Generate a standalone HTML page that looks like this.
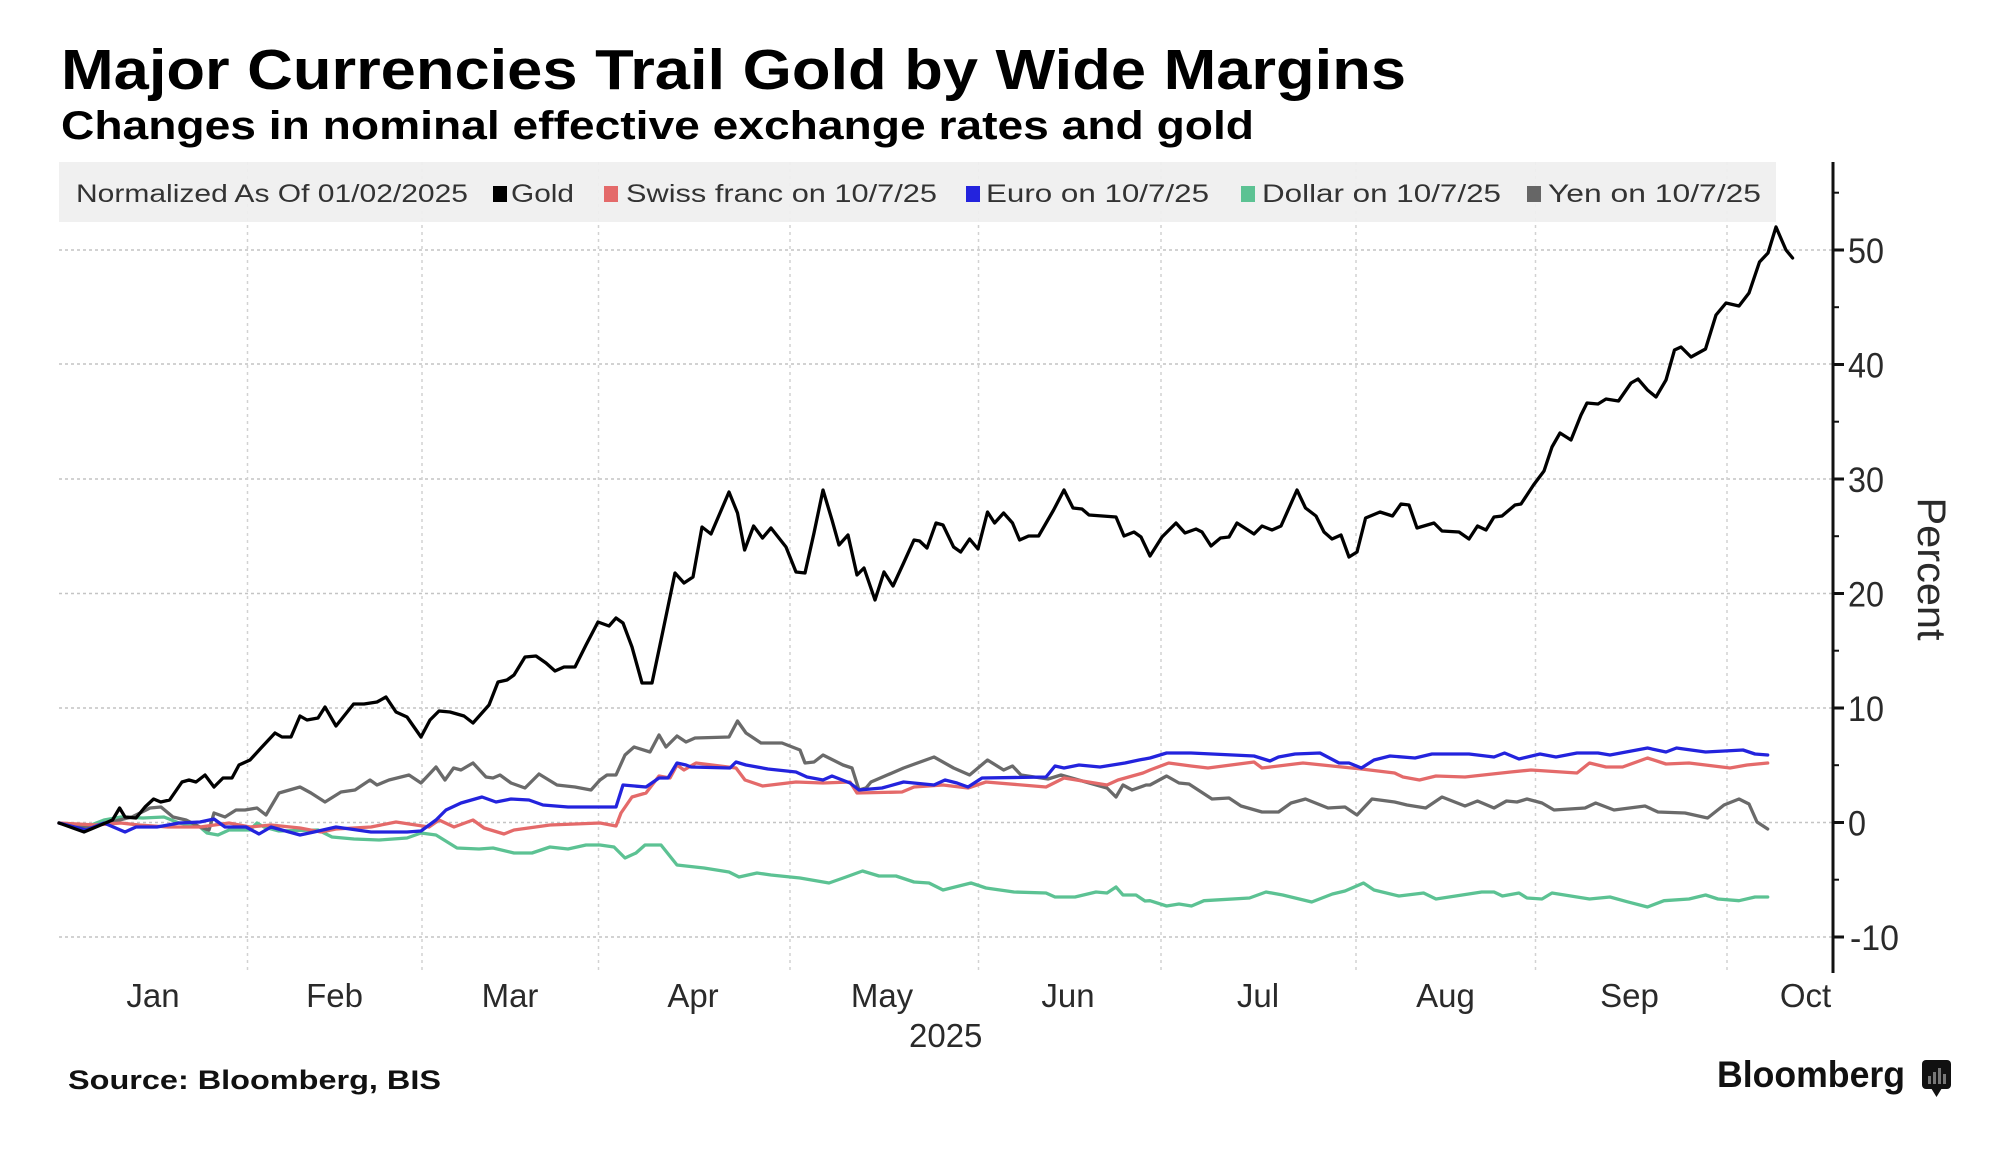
<!DOCTYPE html>
<html>
<head>
<meta charset="utf-8">
<style>
  html, body { margin: 0; padding: 0; background: #ffffff; }
  body { width: 2000px; height: 1151px; overflow: hidden; }
  svg { display: block; }
  text { font-family: "Liberation Sans", "DejaVu Sans", sans-serif; }
</style>
</head>
<body>
<svg width="2000" height="1151" viewBox="0 0 2000 1151" xmlns="http://www.w3.org/2000/svg">
  <rect x="0" y="0" width="2000" height="1151" fill="#ffffff"/>

  <!-- Titles -->
  <text x="61" y="89" font-size="57" font-weight="bold" fill="#000" textLength="1345" lengthAdjust="spacingAndGlyphs">Major Currencies Trail Gold by Wide Margins</text>
  <text x="61" y="139" font-size="40" font-weight="bold" fill="#000" textLength="1193" lengthAdjust="spacingAndGlyphs">Changes in nominal effective exchange rates and gold</text>

  <!-- Horizontal gridlines -->
  <g stroke="#c4c4c4" stroke-width="1.5" stroke-dasharray="3 3">
    <line x1="59" y1="250" x2="1833" y2="250"/>
    <line x1="59" y1="364" x2="1833" y2="364"/>
    <line x1="59" y1="479" x2="1833" y2="479"/>
    <line x1="59" y1="593.5" x2="1833" y2="593.5"/>
    <line x1="59" y1="708" x2="1833" y2="708"/>
    <line x1="59" y1="822.5" x2="1833" y2="822.5"/>
    <line x1="59" y1="937" x2="1833" y2="937"/>
  </g>

  <!-- Vertical gridlines -->
  <g stroke="#d2d2d2" stroke-width="1.5" stroke-dasharray="3 4">
    <line x1="247.5" y1="162" x2="247.5" y2="972"/>
    <line x1="422" y1="162" x2="422" y2="972"/>
    <line x1="598.5" y1="162" x2="598.5" y2="972"/>
    <line x1="790" y1="162" x2="790" y2="972"/>
    <line x1="978.5" y1="162" x2="978.5" y2="972"/>
    <line x1="1161" y1="162" x2="1161" y2="972"/>
    <line x1="1356" y1="162" x2="1356" y2="972"/>
    <line x1="1535.5" y1="162" x2="1535.5" y2="972"/>
    <line x1="1727" y1="162" x2="1727" y2="972"/>
  </g>

  <!-- Legend -->
  <rect x="59" y="162" width="1717" height="60" fill="#efefef" fill-opacity="0.93"/>
  <g font-size="25" fill="#333">
    <text x="76" y="202" textLength="392" lengthAdjust="spacingAndGlyphs">Normalized As Of 01/02/2025</text>
    <rect x="493" y="186" width="14" height="16" fill="#000"/>
    <text x="511" y="202" textLength="63" lengthAdjust="spacingAndGlyphs">Gold</text>
    <rect x="604" y="186" width="14" height="16" fill="#e46a6a"/>
    <text x="626" y="202" textLength="311" lengthAdjust="spacingAndGlyphs">Swiss franc on 10/7/25</text>
    <rect x="966" y="186" width="14" height="16" fill="#2323dd"/>
    <text x="986" y="202" textLength="223" lengthAdjust="spacingAndGlyphs">Euro on 10/7/25</text>
    <rect x="1241" y="186" width="14" height="16" fill="#5cc293"/>
    <text x="1262" y="202" textLength="239" lengthAdjust="spacingAndGlyphs">Dollar on 10/7/25</text>
    <rect x="1527" y="186" width="14" height="16" fill="#666"/>
    <text x="1548" y="202" textLength="213" lengthAdjust="spacingAndGlyphs">Yen on 10/7/25</text>
  </g>

  <!-- Series -->
  <g fill="none" stroke-width="3.3" stroke-linejoin="round" stroke-linecap="round">
    <!-- Dollar -->
    <polyline stroke="#5cc293" points="59,823 86,827 104,820 121,817 143,818 164,817 179,823 200,827 207,833 218,835 229,830 250,830 257,823 264,827 279,831 318,830 332,837 354,839 379,840 407,838 421,833 436,835 457,848 479,849 493,848 514,853 532,853 550,847 568,849 586,845 600,845 614,847 625,858 636,853 645,845 661,845 677,865 704,868 729,872 739,877 757,873 771,875 800,878 829,883 846,877 862.5,871 879,876 896,876 914,882 929,883 943,890 971,883 986,888 1000,890 1014,892 1046,893 1055,897 1075,897 1096,892 1107,893 1116,887 1123,895 1136,895 1145,901 1150,900.7 1166.6,906 1179,904 1191.5,906 1204,900.7 1249.5,898 1266,892 1282.7,895 1311.7,902 1332.4,894 1345,891 1363.5,883 1374,890 1399,896 1423.6,893 1436,899 1481.7,892 1494,892 1502.4,896 1519,893 1527,898 1542,899 1552,893 1589.5,899 1610,897 1627,901.7 1647.5,907 1664,900.7 1689,899 1705.6,895 1718,899 1739,900.7 1755,897 1767.7,897"/>
    <!-- Yen -->
    <polyline stroke="#6a6a6a" points="59,823 86,827 107,823 132,817 150,808 161,807 173,817 186,820 200,827 209,830 214,813 225,817 236,810 245,810 257,808 266,815 279,793 300,787 311,793 325,802 341,792 355,790 370,780 377,785 389,780 409,775 421,783 436,767 445,780 453.6,768 461,770 473,763 486,777 493,778 500,775 511,783 525,788 539,774 557,785 575,787 591,790 600,780 607,775 616,775 625,755 634,747 650,752 659,735 666,747 677,736 686,742 695,738 729,737 737.5,721 746,733 761,743 782,743 800,750 805,763 814,762 823,755 843,765 852,768 859,790 866,788 871,782 903.6,768 934,757 953.6,768 969.6,775 987.5,760 1003.6,770 1012.5,766 1021,775 1048,779 1061,775 1107,788 1116,797 1123,785 1132,790 1146,785 1150,785 1166.6,776 1179,783 1189,784 1212,799 1229,798 1241,806 1262,812 1278.5,812 1291,803 1305.5,799 1328,808 1345,807 1357,815 1372,799 1394.6,802 1407,805 1425.7,808 1442,797 1465,806 1477.5,801 1494,808 1506.5,801 1517,802 1527,799 1542,803 1554,810 1585,808 1595.7,803 1614,810 1645,806 1658,812 1685,813 1707.6,818 1724,805 1739,799 1749,804 1757,822 1767.7,829"/>
    <!-- Swiss franc -->
    <polyline stroke="#e46a6a" points="59,823 96,825 121,823 139,825 168,827 200,827 229,823 250,827 271,825 300,828 321,832 336,829 371,827 396,822 429,827 439,820 454,827 473,820 484,828 504,834 514,830 550,825 600,823 616,826 621,813 632,797 646,793 659,776 670,778 677,765 684,770 696,763 736,768 745,780 762.5,786 796,782 823,783 850,782 857,793 902,792 914,787 943,785 968,788 986,782 1046,787 1064,778 1107,785 1118,780 1143,773 1150,770 1168.7,763 1191,766 1208,768 1254,762 1262,768 1303,763 1332,766 1361.4,769 1394.6,773 1403,777 1419.5,780 1436,776 1465,777 1510.7,772 1531,770 1577,773 1589.5,763 1606,767 1622.6,767 1647.5,758 1666,764 1689,763 1730,768 1747,765 1767.7,763"/>
    <!-- Euro -->
    <polyline stroke="#2323dd" points="59,823 86,830 104,823 125,832 136,827 157,827 179,823 200,822 214,819 225,827 246,827 259,834 271,827 300,835 314,832 336,827 371,832 407,832 421,831 436,820 446,810 461,803 482,797 496,802 511,799 529,800 543,805 568,807 600,807 616,807 623,785 646,787 659,778 668,778 677,763 686,765 691,767 730,768 736,762 746,765 768,769 796,772 807,777 823,780 832,776 850,783 859,790 882,788 903.6,782 934,785 945,780 957,783 968,787 982,778 1046,777 1055,766 1064,768 1079,765 1100,767 1125,763 1139,760 1150,758 1166.6,753 1191,753 1254,756 1270,761 1278.5,757 1295,754 1320,753 1339,763 1349,763 1361.4,768 1374,760 1390,756 1415,758 1432,754 1469,754 1494,757 1504.5,753 1519,759 1540,754 1556,757 1577,753 1598,753 1610,755 1647.5,748 1666,752 1676.5,748 1705.6,752 1743,750 1755,754 1767.7,755"/>
    <!-- Gold -->
    <polyline stroke="#000000" points="59,823 84,832 96,827 112.5,820 119.6,808 125,817 136,818 145,807 153.6,799 160.7,802 169.6,800 182,782 189,780 196,782 205,775 214,787 223,778 232,778 239,765 250,760 261,748 275,733 282,737 291,737 300,716 307,720 318,718 325,707 336,726 353.6,704 364,704 377,702 386,697 396,712 407,717 421,737 430,720 439,711 450,712 464,716 473,723 489,705 498,682 507,680 514,675 525,657 536,656 546,663 555,671 564,667 575,667 586,645 598,622 609,626 616,618 623,623 632,647 642,683 652,683 662.5,633 675,573 684,583 693,577 702,527 711,534 729,492 737.5,513 744.6,550 753.6,526 762.5,538 771,528 786,547 796,572 805,573 814,533 823,490 832,520 839,545 848,535 857,575 864,568 875,600 884,572 893,586 903.6,563 914,540 919.6,541 927,548 936,523 943,525 953.6,547 960.7,552 969.6,539 978,549 987.5,512 994.6,523 1003.6,513 1012.5,523 1019.6,540 1028.6,536 1038.6,536 1053.6,510 1064,490 1073,508 1082,509 1089,515 1116,517 1124,536 1134,532 1141,537 1150,556 1162,537 1176,523 1185,533 1196,529 1202,532 1211,546 1220.5,538 1229,537 1237,523 1254,534 1262,526 1272,530 1281,526 1297,490 1305.5,508 1316,516 1324,532 1332,539 1341,535 1349,557 1357,552 1365.6,518 1380,512 1392.5,516 1401,504 1409,505 1417,528 1434,523 1442,531 1459,532 1469,539 1477.5,526 1486,530 1494,517 1502,516 1515,505 1521,504 1533.5,485 1544,471 1552,447 1560,433 1571,440 1581,415 1587,403 1598,404 1606,399 1618.5,401 1631,383 1638,379 1647.5,390 1656,397 1666,380 1674.5,350 1681,347 1691,357 1705.5,349 1716,315 1726,303 1739,306 1749,293 1759.5,262 1768,253 1776,227 1786,250 1792.6,258"/>
  </g>

  <!-- Y axis -->
  <line x1="1833" y1="162" x2="1833" y2="973" stroke="#111" stroke-width="3"/>
  <g stroke="#111" stroke-width="3">
    <line x1="1833" y1="250" x2="1844" y2="250"/>
    <line x1="1833" y1="364.5" x2="1844" y2="364.5"/>
    <line x1="1833" y1="479" x2="1844" y2="479"/>
    <line x1="1833" y1="593.5" x2="1844" y2="593.5"/>
    <line x1="1833" y1="708" x2="1844" y2="708"/>
    <line x1="1833" y1="822.5" x2="1844" y2="822.5"/>
    <line x1="1833" y1="937" x2="1844" y2="937"/>
  </g>
  <g stroke="#111" stroke-width="2">
    <line x1="1833" y1="192.7" x2="1839" y2="192.7"/>
    <line x1="1833" y1="307.2" x2="1839" y2="307.2"/>
    <line x1="1833" y1="421.7" x2="1839" y2="421.7"/>
    <line x1="1833" y1="536.2" x2="1839" y2="536.2"/>
    <line x1="1833" y1="650.7" x2="1839" y2="650.7"/>
    <line x1="1833" y1="765.2" x2="1839" y2="765.2"/>
    <line x1="1833" y1="879.7" x2="1839" y2="879.7"/>
  </g>
  <g font-size="35" fill="#2a2a2a">
    <text x="1848" y="263" textLength="36" lengthAdjust="spacingAndGlyphs">50</text>
    <text x="1848" y="377.5" textLength="36" lengthAdjust="spacingAndGlyphs">40</text>
    <text x="1848" y="492" textLength="36" lengthAdjust="spacingAndGlyphs">30</text>
    <text x="1848" y="606.5" textLength="36" lengthAdjust="spacingAndGlyphs">20</text>
    <text x="1848" y="721" textLength="36" lengthAdjust="spacingAndGlyphs">10</text>
    <text x="1848" y="835.5" textLength="18" lengthAdjust="spacingAndGlyphs">0</text>
    <text x="1850" y="950" textLength="49" lengthAdjust="spacingAndGlyphs">-10</text>
  </g>
  <text transform="translate(1918,569) rotate(90)" text-anchor="middle" font-size="40" fill="#2a2a2a" textLength="143" lengthAdjust="spacingAndGlyphs">Percent</text>

  <!-- X axis labels -->
  <g font-size="33" fill="#2a2a2a" text-anchor="middle">
    <text x="153" y="1007">Jan</text>
    <text x="334.5" y="1007">Feb</text>
    <text x="510" y="1007">Mar</text>
    <text x="693" y="1007">Apr</text>
    <text x="882" y="1007">May</text>
    <text x="1068" y="1007">Jun</text>
    <text x="1258" y="1007">Jul</text>
    <text x="1445.5" y="1007">Aug</text>
    <text x="1629.5" y="1007">Sep</text>
    <text x="1805.5" y="1007">Oct</text>
    <text x="945.7" y="1047">2025</text>
  </g>

  <!-- Footer -->
  <text x="68" y="1089" font-size="27" font-weight="bold" fill="#111" textLength="373" lengthAdjust="spacingAndGlyphs">Source: Bloomberg, BIS</text>
  <text x="1717" y="1087" font-size="37" font-weight="bold" fill="#111" textLength="188" lengthAdjust="spacingAndGlyphs">Bloomberg</text>
  <g>
    <rect x="1922" y="1060" width="29" height="29" rx="4" fill="#111"/>
    <polygon points="1931,1088 1942,1088 1936.5,1097" fill="#111"/>
    <rect x="1928" y="1076" width="3" height="8" fill="#777"/>
    <rect x="1933" y="1072" width="3" height="12" fill="#777"/>
    <rect x="1938" y="1068" width="3" height="16" fill="#777"/>
    <rect x="1943" y="1074" width="3" height="10" fill="#777"/>
  </g>
</svg>
</body>
</html>
